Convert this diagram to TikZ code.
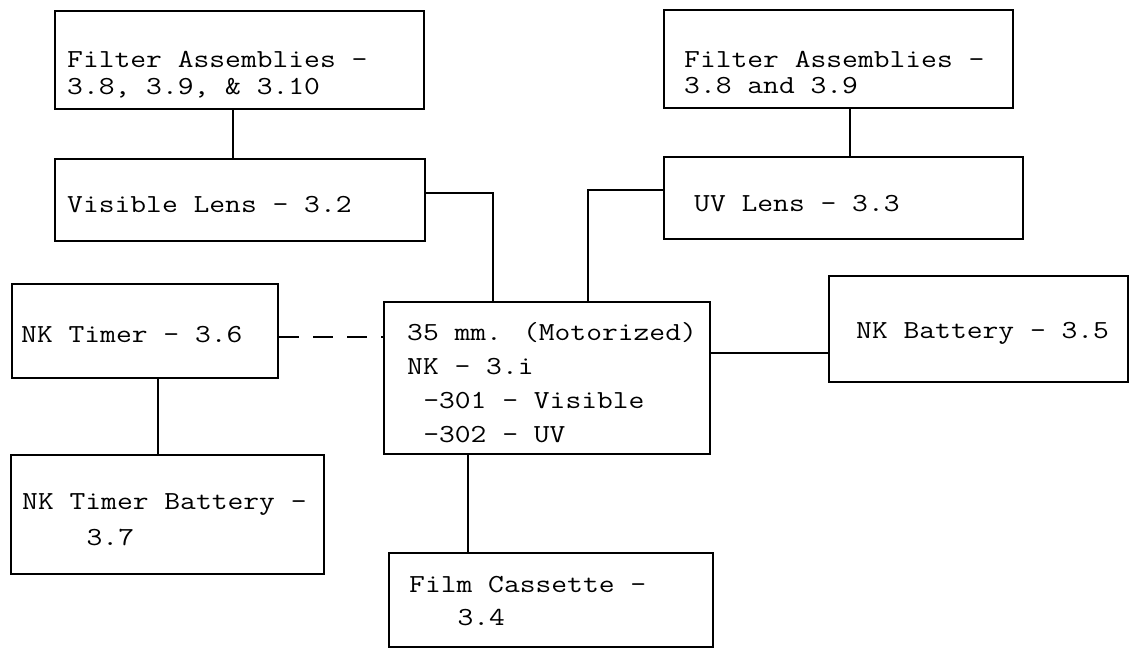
\documentclass[tikz,border=0pt]{standalone}
\usepackage{fontspec}
\newfontfamily\tw[FakeStretch=1.18]{Latin Modern Mono}
\begin{document}
\begin{tikzpicture}[x=1pt,y=-1pt,
  box/.style={draw, line width=2.1pt, inner sep=0pt, anchor=north west},
  lbl/.style={anchor=base west, inner sep=0pt, align=left},
  link/.style={line width=2.1pt}]
\useasboundingbox[fill=white] (0,0) rectangle (1129,648);
% boxes
\node[box, minimum width=369pt, minimum height=98pt] (f1) at (54,10) {};
\node[box, minimum width=370pt, minimum height=82pt] (vl) at (54,158) {};
\node[box, minimum width=349pt, minimum height=98pt] (f2) at (663,9) {};
\node[box, minimum width=359pt, minimum height=82pt] (uv) at (663,156) {};
\node[box, minimum width=266pt, minimum height=94pt] (tm) at (11,283) {};
\node[box, minimum width=326pt, minimum height=152pt] (cam) at (383,301) {};
\node[box, minimum width=299pt, minimum height=106pt] (bat) at (828,275) {};
\node[box, minimum width=313pt, minimum height=119pt] (tb) at (10,454) {};
\node[box, minimum width=324pt, minimum height=94pt] (fc) at (388,552) {};
% texts (multi-line: base = last line)
\node[lbl, font=\tw\fontsize{26}{27}\selectfont] (t1) at (67,94) {Filter Assemblies -\\3.8, 3.9, \& 3.10};
\node[lbl, font=\tw\fontsize{26}{25.5}\selectfont] (t2) at (684,93) {Filter Assemblies -\\3.8 and 3.9};
\node[lbl, font=\tw\fontsize{26}{27}\selectfont] (t3) at (67,212) {Visible Lens - 3.2};
\node[lbl, font=\tw\fontsize{26}{27}\selectfont] (t4) at (694,211) {UV Lens - 3.3};
\node[lbl, font=\tw\fontsize{26}{27}\selectfont] (t5) at (21,342) {NK Timer - 3.6};
\node[lbl, font=\tw\fontsize{26}{33.7}\selectfont] (t6) at (407,442) {35 mm. (Motorized)\\NK - 3.i\\\hspace*{0.62em}-301 - Visible\\\hspace*{0.62em}-302 - UV};
\node[lbl, font=\tw\fontsize{26}{27}\selectfont] (t7) at (856,338) {NK Battery - 3.5};
\node[lbl, font=\tw\fontsize{26}{36}\selectfont] (t8) at (22,545) {NK Timer Battery -\\\hspace*{2.48em}3.7};
\node[lbl, font=\tw\fontsize{26}{33}\selectfont] (t9) at (409,625) {Film Cassette -\\\hspace*{1.86em}3.4};
% connectors
\draw[link] ([xshift=-7pt]f1.south) -- ([xshift=-7pt]f1.south |- vl.north);
\draw[link] ([xshift=11.5pt]f2.south) -- ([xshift=11.5pt]f2.south |- uv.north);
\draw[link] ([yshift=7pt]vl.east) -| ([xshift=-54pt]cam.north);
\draw[link] ([yshift=8pt]uv.west) -| ([xshift=41pt]cam.north);
\draw[link, dash pattern=on 20pt off 14pt] ([yshift=-6pt]tm.east) -- ([yshift=-6pt]tm.east -| cam.west);
\draw[link] ([xshift=13pt]tm.south) -- ([xshift=13pt]tm.south |- tb.north);
\draw[link] ([yshift=25pt]cam.east) -- ([yshift=25pt]cam.east -| bat.west);
\draw[link] ([xshift=-79pt]cam.south) -- ([xshift=-79pt]cam.south |- fc.north);
\end{tikzpicture}
\end{document}
